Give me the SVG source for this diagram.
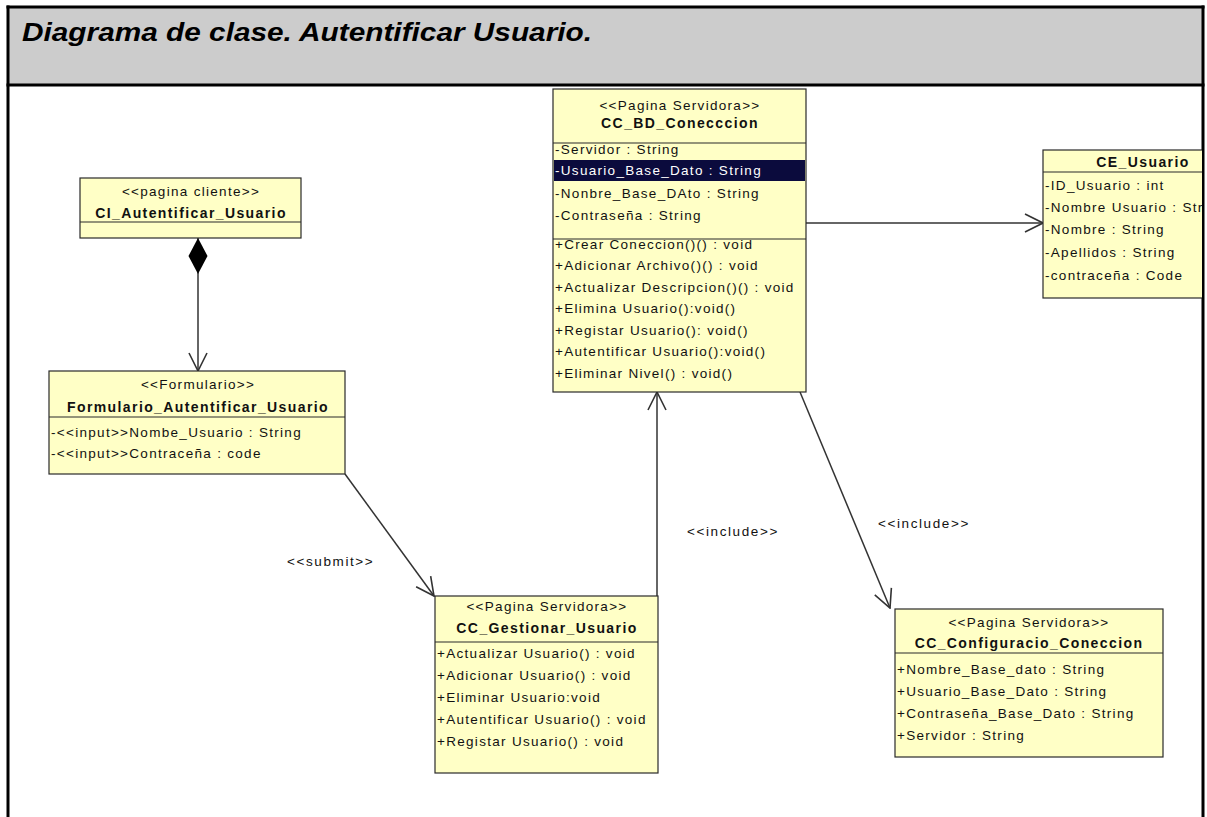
<svg xmlns="http://www.w3.org/2000/svg" width="1207" height="817" viewBox="0 0 1207 817">
  <defs>
    <style>
      .box { fill: #ffffc6; stroke: #2a2a2a; stroke-width: 1.2; }
      .sep { stroke: #2a2a2a; stroke-width: 1.2; }
      .st { font-family: "Liberation Sans", Arial, sans-serif; font-size: 13.5px; letter-spacing: 1.3px; fill: #111; text-anchor: middle; }
      .nm { font-family: "Liberation Sans", Arial, sans-serif; font-size: 14px; font-weight: bold; letter-spacing: 1.4px; fill: #111; text-anchor: middle; }
      .at { font-family: "Liberation Sans", Arial, sans-serif; font-size: 13.5px; letter-spacing: 1.3px; fill: #111; }
      .lbl { font-family: "Liberation Sans", Arial, sans-serif; font-size: 13.5px; letter-spacing: 1.6px; fill: #111; }
      .conn { fill: none; stroke: #333; stroke-width: 1.5; }
    </style>
    <marker id="open" viewBox="0 0 20 20" markerWidth="20" markerHeight="20" refX="19" refY="10" orient="auto" markerUnits="userSpaceOnUse">
      <path d="M1,1 L19,10 L1,19" fill="none" stroke="#333" stroke-width="1.6"/>
    </marker>
    <marker id="diamond" viewBox="0 0 36 20" markerWidth="36" markerHeight="20" refX="0" refY="10" orient="auto" markerUnits="userSpaceOnUse">
      <path d="M0,10 L18,0.5 L36,10 L18,19.5 Z" fill="#000"/>
    </marker>
    <clipPath id="frameClip">
      <rect x="9" y="86" width="1193" height="731"/>
    </clipPath>
  </defs>

  <rect x="0" y="0" width="1207" height="817" fill="#fff"/>

  <!-- frame and title bar -->
  <g id="frame">
    <rect x="8" y="7" width="1195" height="78" fill="#cccccc"/>
    <line x1="6.5" y1="7" x2="1204.5" y2="7" stroke="#000" stroke-width="3"/>
    <line x1="6.5" y1="85" x2="1204.5" y2="85" stroke="#000" stroke-width="3"/>
    <line x1="8" y1="5.5" x2="8" y2="817" stroke="#000" stroke-width="3"/>
    <line x1="1203" y1="5.5" x2="1203" y2="817" stroke="#000" stroke-width="3"/>
    <text x="22" y="41" font-family="Liberation Sans, Arial, sans-serif" font-size="26" font-weight="bold" font-style="italic" textLength="570" lengthAdjust="spacingAndGlyphs" fill="#000">Diagrama de clase. Autentificar Usuario.</text>
  </g>

  <!-- connectors -->
  <g id="connectors">
    <line class="conn" x1="198" y1="238" x2="198" y2="371" marker-start="url(#diamond)" marker-end="url(#open)"/>
    <line class="conn" x1="345" y1="474" x2="434" y2="596" marker-end="url(#open)"/>
    <line class="conn" x1="657" y1="596" x2="657" y2="392" marker-end="url(#open)"/>
    <line class="conn" x1="806" y1="223" x2="1043" y2="223" marker-end="url(#open)"/>
    <line class="conn" x1="800" y1="392" x2="890" y2="608" marker-end="url(#open)"/>
    <text class="lbl" x="287" y="566">&lt;&lt;submit&gt;&gt;</text>
    <text class="lbl" x="687" y="536">&lt;&lt;include&gt;&gt;</text>
    <text class="lbl" x="878" y="528">&lt;&lt;include&gt;&gt;</text>
  </g>

  <!-- client page -->
  <g id="CI_Autentificar_Usuario">
    <rect class="box" x="80" y="178" width="221" height="60"/>
    <line class="sep" x1="80" y1="222" x2="301" y2="222"/>
    <text class="st" x="191" y="196">&lt;&lt;pagina cliente&gt;&gt;</text>
    <text class="nm" x="191" y="218">CI_Autentificar_Usuario</text>
  </g>

  <!-- form -->
  <g id="Formulario_Autentificar_Usuario">
    <rect class="box" x="49" y="371" width="296" height="103"/>
    <line class="sep" x1="49" y1="417" x2="345" y2="417"/>
    <text class="st" x="198" y="389">&lt;&lt;Formulario&gt;&gt;</text>
    <text class="nm" x="198" y="412">Formulario_Autentificar_Usuario</text>
    <text class="at" x="51" y="437">-&lt;&lt;input&gt;&gt;Nombe_Usuario : String</text>
    <text class="at" x="51" y="458">-&lt;&lt;input&gt;&gt;Contraceña : code</text>
  </g>

  <!-- database connection page -->
  <g id="CC_BD_Coneccion">
    <rect class="box" x="553" y="89" width="253" height="303"/>
    <line class="sep" x1="553" y1="143" x2="806" y2="143"/>
    <line class="sep" x1="553" y1="239" x2="806" y2="239"/>
    <rect x="554" y="160" width="251" height="21" fill="#0b0b3d"/>
    <text class="st" x="680" y="110">&lt;&lt;Pagina Servidora&gt;&gt;</text>
    <text class="nm" x="680" y="128">CC_BD_Conecccion</text>
    <text class="at" x="555" y="153.5">-Servidor : String</text>
    <text class="at" x="555" y="175" style="fill:#fff">-Usuario_Base_Dato : String</text>
    <text class="at" x="555" y="197.5">-Nonbre_Base_DAto : String</text>
    <text class="at" x="555" y="220">-Contraseña : String</text>
    <text class="at" x="555" y="248.5">+Crear Coneccion()() : void</text>
    <text class="at" x="555" y="270">+Adicionar Archivo()() : void</text>
    <text class="at" x="555" y="291.5">+Actualizar Descripcion()() : void</text>
    <text class="at" x="555" y="313">+Elimina Usuario():void()</text>
    <text class="at" x="555" y="334.5">+Registar Usuario(): void()</text>
    <text class="at" x="555" y="356">+Autentificar Usuario():void()</text>
    <text class="at" x="555" y="377.5">+Eliminar Nivel() : void()</text>
  </g>

  <!-- user entity -->
  <g id="CE_Usuario" clip-path="url(#frameClip)">
    <rect class="box" x="1043" y="150" width="200" height="148"/>
    <line class="sep" x1="1043" y1="172" x2="1243" y2="172"/>
    <text class="nm" x="1143" y="167">CE_Usuario</text>
    <text class="at" x="1045" y="189.5">-ID_Usuario : int</text>
    <text class="at" x="1045" y="212">-Nombre Usuario : Str</text>
    <text class="at" x="1045" y="234">-Nombre : String</text>
    <text class="at" x="1045" y="256.5">-Apellidos : String</text>
    <text class="at" x="1045" y="279.5">-contraceña : Code</text>
  </g>

  <!-- user management page -->
  <g id="CC_Gestionar_Usuario">
    <rect class="box" x="435" y="596" width="223" height="177"/>
    <line class="sep" x1="435" y1="642" x2="658" y2="642"/>
    <text class="st" x="547" y="611">&lt;&lt;Pagina Servidora&gt;&gt;</text>
    <text class="nm" x="547" y="633">CC_Gestionar_Usuario</text>
    <text class="at" x="437" y="658">+Actualizar Usuario() : void</text>
    <text class="at" x="437" y="680">+Adicionar Usuario() : void</text>
    <text class="at" x="437" y="702">+Eliminar Usuario:void</text>
    <text class="at" x="437" y="724">+Autentificar Usuario() : void</text>
    <text class="at" x="437" y="746">+Registar Usuario() : void</text>
  </g>

  <!-- connection configuration page -->
  <g id="CC_Configuracio_Coneccion">
    <rect class="box" x="895" y="609" width="268" height="148"/>
    <line class="sep" x1="895" y1="653" x2="1163" y2="653"/>
    <text class="st" x="1029" y="626.5">&lt;&lt;Pagina Servidora&gt;&gt;</text>
    <text class="nm" x="1029" y="648">CC_Configuracio_Coneccion</text>
    <text class="at" x="897" y="673.5">+Nombre_Base_dato : String</text>
    <text class="at" x="897" y="695.5">+Usuario_Base_Dato : String</text>
    <text class="at" x="897" y="717.5">+Contraseña_Base_Dato : String</text>
    <text class="at" x="897" y="739.5">+Servidor : String</text>
  </g>
</svg>
